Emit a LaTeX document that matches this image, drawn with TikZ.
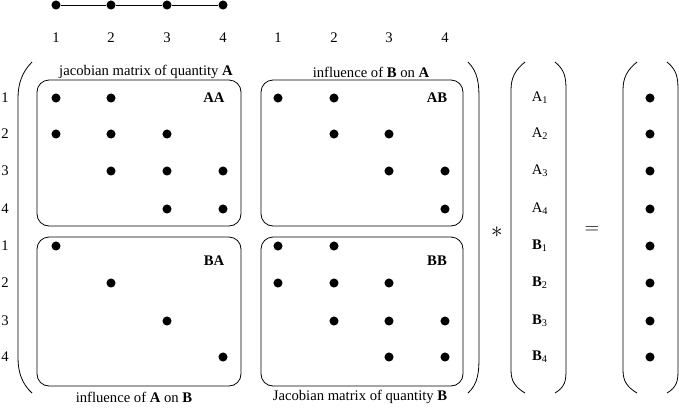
\documentclass[tikz,border=0pt]{standalone}
\usepackage{fontspec}
\setmainfont{Liberation Serif}
\usetikzlibrary{positioning}

\begin{document}
\begin{tikzpicture}[x=0.75pt,y=-0.75pt,font=\fontsize{11}{13}\selectfont,line width=0.6pt,
	pt/.style={circle,fill=black,inner sep=0pt,minimum size=6.8pt},
	blk/.style={rounded corners=9pt},
	paren/.style={black}]

	\useasboundingbox (0,0) rectangle (679,408);

	% node numbering
	\node[pt] (t1) at (56,5) {};
	\node[pt] (t2) at (111,5) {};
	\node[pt] (t3) at (167,5) {};
	\node[pt] (t4) at (223,5) {};
	\draw (t1) -- (t2) -- (t3) -- (t4);

	\node at (56,38) {1};
	\node at (111,38) {2};
	\node at (167,38) {3};
	\node at (223,38) {4};
	\node at (278,38) {1};
	\node at (334,38) {2};
	\node at (389,38) {3};
	\node at (445,38) {4};

	\node at (5,98) {1};
	\node at (5,134) {2};
	\node at (5,171) {3};
	\node at (5,209) {4};
	\node at (5,246) {1};
	\node at (5,283) {2};
	\node at (5,321) {3};
	\node at (5,357) {4};

	% blocks
	\draw[blk] (37,80) rectangle (241,226);
	\draw[blk] (261,80) rectangle (463,226);
	\draw[blk] (37,237) rectangle (241,386);
	\draw[blk] (261,237) rectangle (463,386);

	\node at (146,72) {jacobian matrix of quantity \textbf{A}};
	\node at (371,72) {influence of \textbf{B} on \textbf{A}};
	\node at (134,397) {influence of \textbf{A} on \textbf{B}};
	\node at (360,397) {Jacobian matrix of quantity \textbf{B}};

	\node at (214,98) {\textbf{AA}};
	\node at (437,98) {\textbf{AB}};
	\node at (214,261) {\textbf{BA}};
	\node at (437,261) {\textbf{BB}};

	% AA
	\node[pt] (aa11) at (56,98) {};
	\node[pt] (aa12) at (111,98) {};
	\node[pt] (aa21) at (56,134) {};
	\node[pt] (aa22) at (111,134) {};
	\node[pt] (aa23) at (167,134) {};
	\node[pt] (aa32) at (111,171) {};
	\node[pt] (aa33) at (167,171) {};
	\node[pt] (aa34) at (223,171) {};
	\node[pt] (aa43) at (167,209) {};
	\node[pt] (aa44) at (223,209) {};

	% AB
	\node[pt] (ab11) at (278,98) {};
	\node[pt] (ab12) at (334,98) {};
	\node[pt] (ab22) at (334,134) {};
	\node[pt] (ab23) at (389,134) {};
	\node[pt] (ab33) at (389,171) {};
	\node[pt] (ab34) at (445,171) {};
	\node[pt] (ab44) at (445,209) {};

	% BA
	\node[pt] (ba11) at (56,246) {};
	\node[pt] (ba22) at (111,283) {};
	\node[pt] (ba33) at (167,321) {};
	\node[pt] (ba44) at (223,357) {};

	% BB
	\node[pt] (bb11) at (278,246) {};
	\node[pt] (bb12) at (334,246) {};
	\node[pt] (bb21) at (278,283) {};
	\node[pt] (bb22) at (334,283) {};
	\node[pt] (bb23) at (389,283) {};
	\node[pt] (bb32) at (334,321) {};
	\node[pt] (bb33) at (389,321) {};
	\node[pt] (bb34) at (445,321) {};
	\node[pt] (bb43) at (389,357) {};
	\node[pt] (bb44) at (445,357) {};

	% parentheses
	\draw[paren] (32,62) .. controls (22,72) and (18,84) .. (18,98) -- (18,358) .. controls (18,372) and (22,384) .. (32,393);
	\draw[paren] (468,62) .. controls (478,72) and (479,84) .. (479,98) -- (479,358) .. controls (479,372) and (478,384) .. (468,393);

	\draw[paren] (525,62) .. controls (515,70) and (511,78) .. (511,90) -- (511,370) .. controls (511,381) and (515,387) .. (525,393);
	\draw[paren] (555,62) .. controls (565,70) and (566,78) .. (566,90) -- (566,370) .. controls (566,381) and (565,387) .. (555,393);

	\draw[paren] (637,62) .. controls (627,70) and (623,78) .. (623,90) -- (623,370) .. controls (623,381) and (627,387) .. (637,393);
	\draw[paren] (667,62) .. controls (677,70) and (678,78) .. (678,90) -- (678,370) .. controls (678,381) and (677,387) .. (667,393);

	\node at (497,232) {\LARGE$*$};
	\node at (592,230) {\Large$=$};

	% unknowns
	\node at (540,98) {A\textsubscript{1}};
	\node at (540,134) {A\textsubscript{2}};
	\node at (540,171) {A\textsubscript{3}};
	\node at (540,209) {A\textsubscript{4}};
	\node at (540,246) {\textbf{B}\textsubscript{1}};
	\node at (540,283) {\textbf{B}\textsubscript{2}};
	\node at (540,321) {\textbf{B}\textsubscript{3}};
	\node at (540,357) {\textbf{B}\textsubscript{4}};

	% right hand side
	\node[pt] (r1) at (650,98) {};
	\node[pt] (r2) at (650,134) {};
	\node[pt] (r3) at (650,171) {};
	\node[pt] (r4) at (650,209) {};
	\node[pt] (r5) at (650,246) {};
	\node[pt] (r6) at (650,283) {};
	\node[pt] (r7) at (650,321) {};
	\node[pt] (r8) at (650,357) {};
\end{tikzpicture}
\end{document}
